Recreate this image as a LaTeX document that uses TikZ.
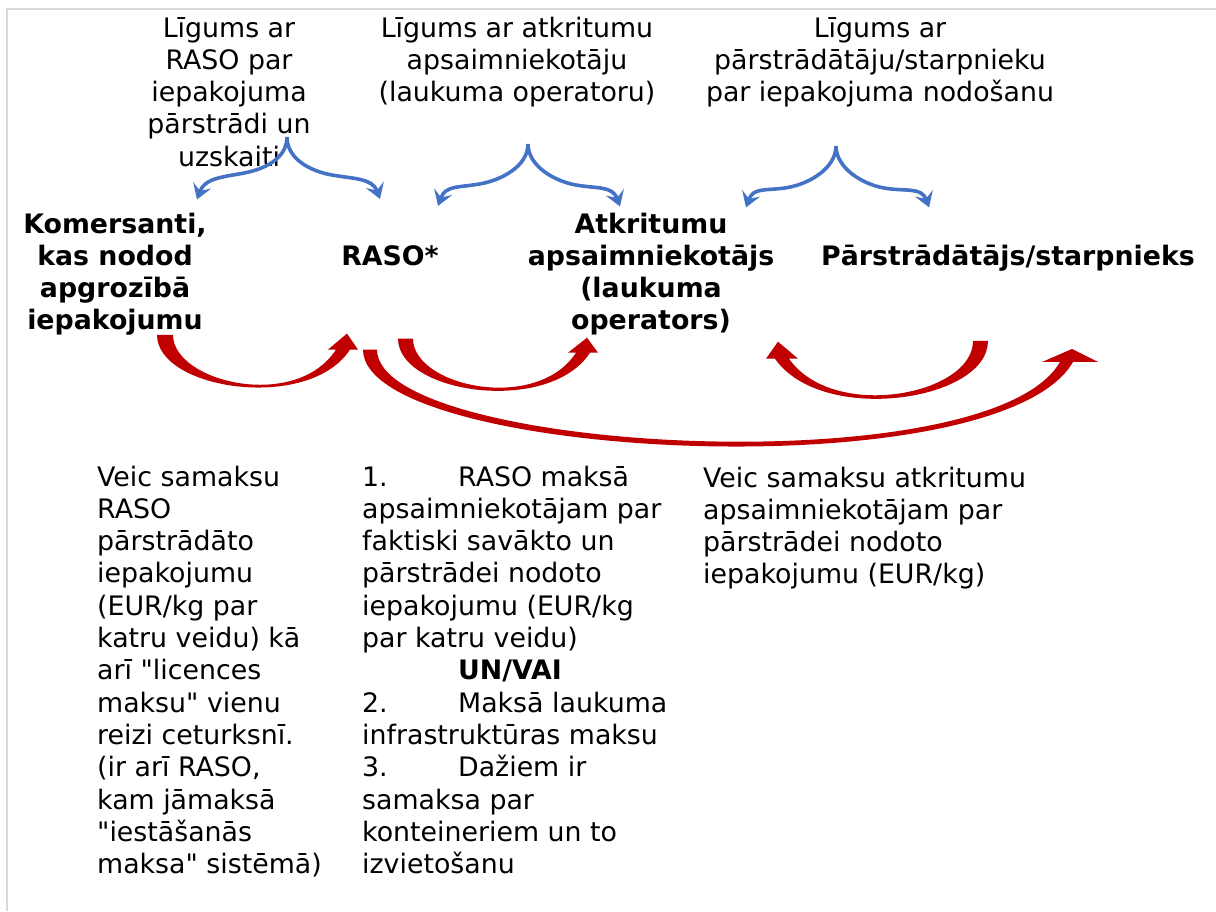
\documentclass[tikz,border=0pt]{standalone}
\usepackage{fontspec}
\setmainfont{DejaVu Sans}[Ligatures=TeXOff]
\usepackage{tikz}
\usetikzlibrary{calc,arrows.meta}
\definecolor{payred}{HTML}{C00000}
\definecolor{contractblue}{HTML}{4472C4}
\definecolor{framegrey}{HTML}{D9D9D9}
\tikzset{
  txt/.style={inner sep=0pt,font=\fontsize{26.8}{32.3}\selectfont},
  party/.style={txt,align=center,font=\fontsize{26.8}{32.3}\selectfont\bfseries},
  contract/.style={contractblue,line width=3.6pt,distance=22pt,{Stealth[length=15pt,width=19pt,inset=6pt]}-{Stealth[length=15pt,width=19pt,inset=6pt]}},
}

\begin{document}
\begin{tikzpicture}[x=1pt,y=-1pt]
              \useasboundingbox (0,0) rectangle (1216,911);
              \draw[framegrey,line width=2pt] (7,911) -- (7,8.5) -- (1216,8.5);
              \node[txt,align=center,anchor=base](lig1)at(229,166.2){Līgums ar\\RASO par\\iepakojuma\\pārstrādi un\\uzskaiti};
              \node[txt,align=center,anchor=base](lig2)at(517,101.6){Līgums ar atkritumu\\apsaimniekotāju\\(laukuma operatoru)};
              \node[txt,align=center,anchor=base](lig3)at(880,101.6){Līgums ar\\pārstrādātāju/starpnieku\\par iepakojuma nodošanu};
              \node[party,anchor=base](kom)at(115,329.9){Komersanti,\\kas nodod\\apgrozībā\\iepakojumu};
              \node[party,anchor=base](raso)at(390,265){RASO*};
              \node[party,anchor=base](atk)at(651,329.9){Atkritumu\\apsaimniekotājs\\(laukuma\\operators)};
              \node[party,anchor=base](par)at(1008,265){Pārstrādātājs/starpnieks};
              \coordinate (c1) at (287,137);
              \coordinate (c2) at (528,144);
              \coordinate (c3) at (836,146);
              \draw[contract] ($(kom.north)+(82,-13)$) to[out=70,in=190] ++(45,-26) to[out=10,in=-90] (c1)
                to[out=-90,in=170] ++(45,38) to[out=-10,in=110] ($(raso.north)+(-10,-46)$);
              \draw[contract] ($(raso.north)+(48,-39)$) to[out=70,in=190] ++(42,-22) to[out=10,in=-90] (c2)
                to[out=-90,in=170] ++(48,41) to[out=-10,in=110] ($(atk.north)+(-31,-6)$);
              \draw[contract] ($(atk.north)+(95,-5)$) to[out=70,in=190] ++(42,-20) to[out=10,in=-90] (c3)
                to[out=-90,in=170] ++(48,42) to[out=-10,in=110] ($(par.north)+(-79,-37)$);
              \fill[payred] ($(kom.south)+(42,-1)$) to[out=-90,in=237,out distance=55pt,in distance=75pt] ($(raso.south)+(-40,84)$)
                -- ++(8,0) -- ($(raso.south)+(-43,68)$) -- ($(raso.south)+(-62,84)$) -- ++(8,0)
                to[out=237,in=-90,out distance=74pt,in distance=47pt] ($(kom.south)+(58,-1)$) -- cycle;
              \fill[payred] ($(raso.south)+(8,73)$) to[out=-90,in=237,out distance=55pt,in distance=75pt] ($(atk.south)+(-61,17)$)
                -- ++(8,0) -- ($(atk.south)+(-64,2)$) -- ($(atk.south)+(-83,17)$) -- ++(8,0)
                to[out=237,in=-90,out distance=72pt,in distance=48pt] ($(raso.south)+(23,73)$) -- cycle;
              \fill[payred] ($(par.south)+(-20,70)$) to[out=-90,in=305,out distance=60pt,in distance=82pt] ($(atk.south)+(124,23)$)
                -- ++(-9,0) -- ($(atk.south)+(127,6)$) -- ($(atk.south)+(147,23)$) -- ++(-9,0)
                to[out=305,in=-90,out distance=77pt,in distance=54pt] ($(par.south)+(-35,70)$) -- cycle;
              \fill[payred] ($(raso.south)+(-27,84)$) to[out=-90,in=240,out distance=110pt,in distance=150pt] ($(par.south)+(65,91)$)
                -- ++(25,0) -- ($(par.south)+(64,78)$) -- ($(par.south)+(34,91)$) -- ++(18,0)
                to[out=240,in=-90,out distance=143pt,in distance=103pt] ($(raso.south)+(-13,84)$) -- cycle;
              \node[txt,align=left,anchor=base west](pay1)at(97,873.6){Veic samaksu\\RASO\\pārstrādāto\\iepakojumu\\(EUR/kg par\\katru veidu) kā\\arī "licences\\maksu" vienu\\reizi ceturksnī.\\(ir arī RASO,\\kam jāmaksā\\"iestāšanās\\maksa" sistēmā)};
              \node[txt,align=left,anchor=base west](pay2)at(362,873.6){\makebox[96pt][l]{1.}RASO maksā\\apsaimniekotājam par\\faktiski savākto un\\pārstrādei nodoto\\iepakojumu (EUR/kg\\par katru veidu)\\\hspace*{96pt}\textbf{UN/VAI}\\\makebox[96pt][l]{2.}Maksā laukuma\\infrastruktūras maksu\\\makebox[96pt][l]{3.}Dažiem ir\\samaksa par\\konteineriem un to\\izvietošanu};
              \node[txt,align=left,anchor=base west](pay3)at(703,583.9){Veic samaksu atkritumu\\apsaimniekotājam par\\pārstrādei nodoto\\iepakojumu (EUR/kg)};
            \end{tikzpicture}
\end{document}
